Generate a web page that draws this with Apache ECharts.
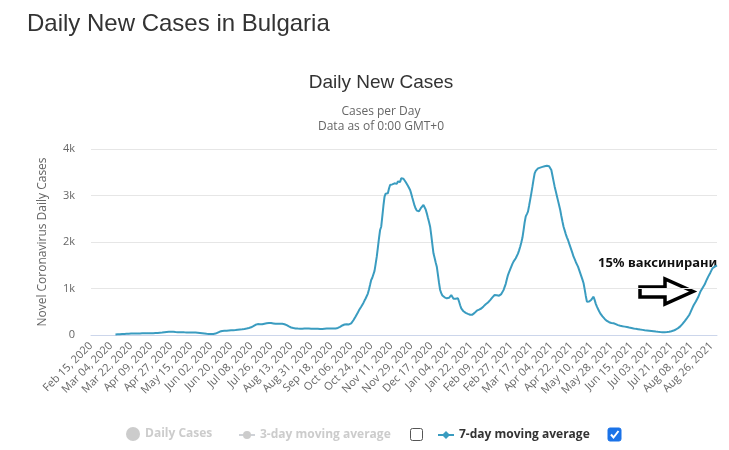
<!DOCTYPE html>
<html>
<head>
<meta charset="utf-8">
<script src="https://cdn.jsdelivr.net/npm/echarts@6/dist/echarts.min.js"></script>
<style>
html,body{margin:0;padding:0;background:#fff;}
#chart{width:729px;height:450px;}
</style>
</head>
<body>
<div id="chart"></div>
<script>
// ---- data ----
const startDate = '2020-02-15';
const dayCount = 564;
const tickLabels = ['Feb 15, 2020','Mar 04, 2020','Mar 22, 2020','Apr 09, 2020','Apr 27, 2020','May 15, 2020','Jun 02, 2020','Jun 20, 2020','Jul 08, 2020','Jul 26, 2020','Aug 13, 2020','Aug 31, 2020','Sep 18, 2020','Oct 06, 2020','Oct 24, 2020','Nov 11, 2020','Nov 29, 2020','Dec 17, 2020','Jan 04, 2021','Jan 22, 2021','Feb 09, 2021','Feb 27, 2021','Mar 17, 2021','Apr 04, 2021','Apr 22, 2021','May 10, 2021','May 28, 2021','Jun 15, 2021','Jul 03, 2021','Jul 21, 2021','Aug 08, 2021','Aug 26, 2021'];
const yTicks = [0, 1000, 2000, 3000, 4000];
const dailyCases = [];
const threeDayAvg = [];
const sevenDayAvg = [
null,null,null,null,null,null,null,null,null,null,
null,null,null,null,null,null,null,null,null,null,
null,null,10,12,14,16,18,20,21,22,
24,25,26,27,28,29,30,30,31,31,
32,33,33,34,34,35,35,35,36,36,
37,37,38,38,39,40,40,41,42,43,
44,46,48,50,52,55,58,61,64,67,
69,70,71,71,69,66,63,60,58,57,
58,60,61,60,58,57,56,56,55,54,
54,55,55,54,54,52,50,48,45,42,
39,36,33,30,27,25,23,22,21,21,
22,24,30,40,52,64,74,82,86,88,
89,90,92,94,96,98,100,102,104,106,
108,111,113,115,118,120,122,126,130,135,
140,146,152,158,165,178,192,206,220,230,
234,236,232,228,230,236,242,248,252,255,
257,258,256,252,248,244,240,238,240,242,
244,243,240,237,232,224,212,198,184,172,
162,155,150,146,142,140,138,137,136,135,
135,136,138,140,141,140,138,136,135,134,
134,135,136,135,133,130,128,127,128,130,
133,136,138,140,141,140,139,138,138,140,
142,145,152,162,175,190,205,218,226,230,
232,230,228,232,250,280,318,358,400,440,
485,530,570,609,650,690,740,785,824,890,
980,1080,1183,1230,1254,1380,1530,1684,1880,2080,
2258,2329,2550,2780,2974,3040,3082,3050,3150,3226,
3200,3240,3230,3262,3280,3250,3300,3320,3290,3369,
3340,3360,3318,3290,3250,3210,3170,3118,3040,2950,
2867,2780,2720,2674,2690,2660,2703,2740,2770,2796,
2760,2700,2616,2520,2430,2329,2150,1950,1756,1660,
1560,1469,1300,1120,968,900,850,824,810,790,
789,820,800,840,860,820,780,753,780,800,
789,720,640,573,540,510,490,476,466,455,
445,436,430,438,455,475,500,523,535,545,
552,570,590,615,640,662,681,700,725,750,
780,810,840,860,862,855,848,846,850,880,
920,965,1004,1100,1200,1290,1350,1410,1470,1530,
1577,1610,1650,1684,1750,1820,1899,1990,2090,2250,
2420,2550,2600,2652,2780,2910,3047,3190,3340,3477,
3530,3570,3584,3590,3600,3605,3615,3620,3630,3610,
3640,3656,3630,3600,3548,3430,3310,3190,3090,2990,
2890,2790,2688,2560,2440,2329,2250,2170,2100,2043,
1970,1900,1830,1760,1684,1630,1570,1520,1469,1400,
1330,1260,1190,1112,980,840,717,740,720,717,
760,800,824,750,670,609,560,510,465,430,
400,372,345,322,303,287,275,265,258,255,
252,245,235,222,212,205,198,192,187,183,
180,177,172,166,160,155,150,145,140,136,
132,129,125,121,117,113,110,106,103,100,
97,94,91,88,85,82,79,76,73,70,
68,66,64,62,61,60,60,61,63,66,
70,75,81,88,95,105,118,132,148,165,
185,210,238,268,300,332,364,394,430,480,
535,590,640,681,720,753,810,870,930,968,
1010,1039,1090,1147,1200,1250,1290,1340,1390,1434,
1455,1470,1485,1495
];
const annotationText = '15% ваксинирани';

// ---- categories (one per day) ----
const MONTHS = ['Jan','Feb','Mar','Apr','May','Jun','Jul','Aug','Sep','Oct','Nov','Dec'];
const categories = [];
{
  const d0 = new Date(startDate + 'T00:00:00Z');
  for (let i = 0; i < dayCount; i++) {
    const d = new Date(d0.getTime() + i * 86400000);
    categories.push(MONTHS[d.getUTCMonth()] + ' ' + String(d.getUTCDate()).padStart(2, '0') + ', ' + d.getUTCFullYear());
  }
}
const tickSet = new Set(tickLabels);

const chart = echarts.init(document.getElementById('chart'));
const FONT = 'Open Sans';
const lineColor = '#3a9cc0';

chart.setOption({
  animation: false,
  backgroundColor: '#fff',
  title: [
    {
      text: 'Daily New Cases in Bulgaria',
      left: 22, top: 7,
      textStyle: { fontFamily: 'Liberation Sans', fontSize: 24, fontWeight: 'normal', color: '#333' }
    },
    {
      text: 'Daily New Cases',
      subtext: 'Cases per Day\nData as of 0:00 GMT+0',
      left: 376, top: 68, textAlign: 'center', itemGap: 12,
      textStyle: { fontFamily: 'Liberation Sans', fontSize: 19, fontWeight: 'normal', color: '#333' },
      subtextStyle: { fontFamily: FONT, fontSize: 12, color: '#666', lineHeight: 15 }
    }
  ],
  legend: [
    {
      data: [{ name: 'Daily Cases', icon: 'circle' }],
      left: 121, top: 422, itemWidth: 14, itemHeight: 14, itemGap: 6,
      selected: { 'Daily Cases': false },
      inactiveColor: '#ccc', inactiveBorderColor: '#ccc',
      textStyle: { fontFamily: FONT, fontSize: 12, fontWeight: 'bold', color: '#333' }
    },
    {
      data: ['3-day moving average'],
      left: 233, top: 424, itemWidth: 16, itemHeight: 10, itemGap: 6,
      selected: { '3-day moving average': false },
      inactiveColor: '#ccc', inactiveBorderColor: '#ccc',
      textStyle: { fontFamily: FONT, fontSize: 12, fontWeight: 'bold', color: '#333' }
    },
    {
      data: ['7-day moving average'],
      left: 432, top: 424, itemWidth: 16, itemHeight: 10, itemGap: 6,
      textStyle: { fontFamily: FONT, fontSize: 12, fontWeight: 'bold', color: '#333' }
    }
  ],
  grid: { left: 91, right: 12, top: 149, bottom: 115, containLabel: false },
  xAxis: {
    type: 'category',
    data: categories,
    boundaryGap: false,
    axisLine: { lineStyle: { color: '#ccd6eb' } },
    axisTick: { show: false },
    axisLabel: {
      interval: (idx, val) => tickSet.has(val),
      rotate: 45,
      margin: 9,
      fontFamily: FONT, fontSize: 11, color: '#666'
    },
    splitLine: { show: false }
  },
  yAxis: {
    type: 'value',
    min: yTicks[0], max: yTicks[yTicks.length - 1], interval: yTicks[1] - yTicks[0],
    name: 'Novel Coronavirus Daily Cases',
    nameLocation: 'middle', nameGap: 42,
    nameTextStyle: { fontFamily: FONT, fontSize: 12, color: '#666' },
    axisLine: { show: false },
    axisTick: { show: false },
    axisLabel: {
      formatter: v => v === 0 ? '0' : (v / 1000) + 'k',
      fontFamily: FONT, fontSize: 11, color: '#666', margin: 16
    },
    splitLine: { lineStyle: { color: '#e6e6e6' } }
  },
  series: [
    {
      name: 'Daily Cases', type: 'bar', data: dailyCases,
      itemStyle: { color: '#999' }
    },
    {
      name: '3-day moving average', type: 'line', data: threeDayAvg,
      symbol: 'circle', showSymbol: false,
      itemStyle: { color: '#999' }, lineStyle: { color: '#999' }
    },
    {
      name: '7-day moving average', type: 'line', data: sevenDayAvg,
      symbol: 'diamond', symbolSize: 8, showSymbol: false,
      connectNulls: false,
      itemStyle: { color: lineColor },
      lineStyle: { color: lineColor, width: 2 }
    }
  ],
  graphic: [
    {
      type: 'text', left: 598, top: 257,
      style: { text: annotationText, font: 'bold 13px "Noto Sans"', fill: '#111' }
    },
    {
      type: 'polygon',
      shape: { points: [[640,287],[665,287],[665,279],[693,291.5],[665,304],[665,297],[640,297]] },
      style: { fill: '#fff', stroke: '#000', lineWidth: 3.5, lineJoin: 'miter' }
    },
    {
      type: 'rect',
      shape: { x: 410.5, y: 428.5, width: 12, height: 12, r: 2 },
      style: { fill: '#fff', stroke: '#555', lineWidth: 1 }
    },
    {
      type: 'rect',
      shape: { x: 608, y: 428, width: 13, height: 13, r: 2 },
      style: { fill: '#1a73e8', stroke: '#1a73e8', lineWidth: 1 }
    },
    {
      type: 'polyline',
      shape: { points: [[611,434.5],[613.5,437.5],[618.5,431]] },
      style: { stroke: '#fff', lineWidth: 2, fill: null }
    }
  ]
});
</script>
</body>
</html>
